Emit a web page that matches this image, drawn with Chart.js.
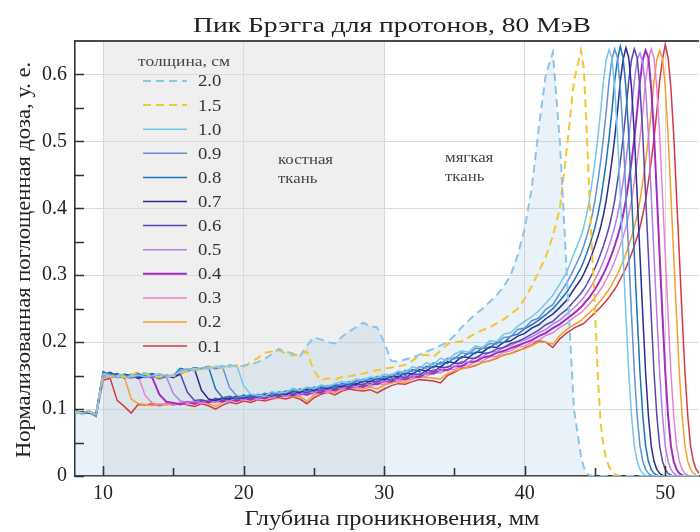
<!DOCTYPE html>
<html>
<head>
<meta charset="utf-8">
<script src="https://cdn.jsdelivr.net/npm/chart.js@4.4.0/dist/chart.umd.min.js"></script>
<style>
  html, body { margin: 0; padding: 0; background: #fff; }
</style>
</head>
<body>
<canvas id="chart" width="700" height="532"></canvas>
<script>
// depth grid, mm (0.5 mm steps up to 44, then 0.2 mm through the peaks)
const depth = [
  8, 8.5, 9, 9.5, 10, 10.5, 11, 11.5, 12, 12.5,
  13, 13.5, 14, 14.5, 15, 15.5, 16, 16.5, 17, 17.5,
  18, 18.5, 19, 19.5, 20, 20.5, 21, 21.5, 22, 22.5,
  23, 23.5, 24, 24.5, 25, 25.5, 26, 26.5, 27, 27.5,
  28, 28.5, 29, 29.5, 30, 30.5, 31, 31.5, 32, 32.5,
  33, 33.5, 34, 34.5, 35, 35.5, 36, 36.5, 37, 37.5,
  38, 38.5, 39, 39.5, 40, 40.5, 41, 41.5, 42, 42.5,
  43, 43.5, 44, 44.2, 44.4, 44.6, 44.8, 45, 45.2, 45.4,
  45.6, 45.8, 46, 46.2, 46.4, 46.6, 46.8, 47, 47.2, 47.4,
  47.6, 47.8, 48, 48.2, 48.4, 48.6, 48.8, 49, 49.2, 49.4,
  49.6, 49.8, 50, 50.2, 50.4, 50.6, 50.8, 51, 51.2, 51.4,
  51.6, 51.8, 52, 52.2, 52.4
];

const thickness = ['2.0', '1.5', '1.0', '0.9', '0.8', '0.7', '0.6', '0.5', '0.4', '0.3', '0.2', '0.1'];

const dose20 = [
  0.095, 0.093, 0.096, 0.091, 0.153, 0.150, 0.148, 0.152, 0.149, 0.151,
  0.154, 0.150, 0.152, 0.148, 0.151, 0.156, 0.160, 0.158, 0.162, 0.160,
  0.164, 0.162, 0.166, 0.163, 0.165, 0.167, 0.170, 0.175, 0.182, 0.190,
  0.186, 0.183, 0.179, 0.195, 0.207, 0.204, 0.200, 0.198, 0.208, 0.216,
  0.222, 0.229, 0.224, 0.222, 0.200, 0.172, 0.171, 0.174, 0.177, 0.181,
  0.186, 0.190, 0.195, 0.200, 0.210, 0.222, 0.232, 0.242, 0.250, 0.260,
  0.270, 0.283, 0.300, 0.330, 0.370, 0.430, 0.520, 0.600, 0.633, 0.500,
  0.300, 0.100, 0.030, 0.013, 0.005, 0.001, 0, 0, 0, 0,
  0, 0, 0, 0, 0, 0, 0, 0, 0, 0,
  0, 0, 0, 0, 0, 0, 0, 0, 0, 0,
  0, 0, 0, 0, 0, 0, 0, 0, 0, 0,
  0, 0, 0, 0, 0
];

const dose15 = [
  0.096, 0.094, 0.097, 0.092, 0.151, 0.149, 0.152, 0.148, 0.151, 0.156,
  0.152, 0.150, 0.148, 0.151, 0.149, 0.154, 0.157, 0.160, 0.158, 0.161,
  0.163, 0.161, 0.165, 0.164, 0.163, 0.170, 0.176, 0.184, 0.186, 0.188,
  0.183, 0.180, 0.182, 0.186, 0.157, 0.143, 0.146, 0.144, 0.148, 0.149,
  0.151, 0.153, 0.156, 0.158, 0.160, 0.162, 0.164, 0.166, 0.172, 0.180,
  0.181, 0.178, 0.187, 0.197, 0.200, 0.201, 0.207, 0.213, 0.218, 0.222,
  0.228, 0.234, 0.242, 0.250, 0.265, 0.284, 0.305, 0.328, 0.358, 0.400,
  0.490, 0.590, 0.636, 0.610, 0.520, 0.420, 0.330, 0.250, 0.150, 0.080,
  0.045, 0.025, 0.014, 0.007, 0.003, 0.001, 0, 0, 0, 0,
  0, 0, 0, 0, 0, 0, 0, 0, 0, 0,
  0, 0, 0, 0, 0, 0, 0, 0, 0, 0,
  0, 0, 0, 0, 0
];

const dose10 = [
  0.096, 0.094, 0.098, 0.092, 0.152, 0.148, 0.150, 0.147, 0.149, 0.151,
  0.148, 0.150, 0.153, 0.149, 0.151, 0.156, 0.158, 0.161, 0.159, 0.163,
  0.162, 0.165, 0.163, 0.166, 0.135, 0.122, 0.121, 0.119, 0.126, 0.124,
  0.125, 0.131, 0.128, 0.133, 0.131, 0.136, 0.134, 0.138, 0.141, 0.139,
  0.145, 0.143, 0.148, 0.147, 0.152, 0.151, 0.157, 0.155, 0.163, 0.161,
  0.169, 0.166, 0.176, 0.173, 0.182, 0.187, 0.185, 0.194, 0.192, 0.202,
  0.201, 0.212, 0.214, 0.224, 0.231, 0.238, 0.247, 0.258, 0.270, 0.287,
  0.305, 0.332, 0.358, 0.372, 0.390, 0.412, 0.440, 0.470, 0.505, 0.545,
  0.590, 0.622, 0.637, 0.625, 0.580, 0.510, 0.420, 0.330, 0.240, 0.155,
  0.090, 0.045, 0.022, 0.010, 0.004, 0.001, 0, 0, 0, 0,
  0, 0, 0, 0, 0, 0, 0, 0, 0, 0,
  0, 0, 0, 0, 0
];

const dose09 = [
  0.095, 0.093, 0.096, 0.090, 0.154, 0.150, 0.148, 0.151, 0.147, 0.150,
  0.152, 0.149, 0.147, 0.151, 0.149, 0.158, 0.160, 0.157, 0.161, 0.164,
  0.160, 0.163, 0.132, 0.120, 0.118, 0.122, 0.119, 0.124, 0.121, 0.126,
  0.124, 0.129, 0.127, 0.132, 0.130, 0.134, 0.133, 0.137, 0.136, 0.141,
  0.140, 0.145, 0.143, 0.149, 0.147, 0.152, 0.151, 0.158, 0.156, 0.163,
  0.161, 0.169, 0.167, 0.176, 0.175, 0.184, 0.182, 0.191, 0.190, 0.198,
  0.197, 0.207, 0.208, 0.219, 0.221, 0.232, 0.236, 0.249, 0.256, 0.273,
  0.289, 0.309, 0.332, 0.344, 0.357, 0.372, 0.390, 0.412, 0.440, 0.470,
  0.505, 0.545, 0.590, 0.622, 0.638, 0.625, 0.580, 0.510, 0.420, 0.330,
  0.240, 0.155, 0.090, 0.045, 0.022, 0.010, 0.004, 0.001, 0, 0,
  0, 0, 0, 0, 0, 0, 0, 0, 0, 0,
  0, 0, 0, 0, 0
];

const dose08 = [
  0.097, 0.095, 0.095, 0.093, 0.156, 0.151, 0.153, 0.149, 0.152, 0.148,
  0.151, 0.153, 0.150, 0.148, 0.150, 0.161, 0.158, 0.162, 0.160, 0.163,
  0.130, 0.117, 0.119, 0.116, 0.121, 0.118, 0.122, 0.120, 0.125, 0.122,
  0.127, 0.125, 0.130, 0.127, 0.133, 0.130, 0.135, 0.133, 0.138, 0.136,
  0.142, 0.140, 0.146, 0.143, 0.149, 0.147, 0.154, 0.151, 0.159, 0.156,
  0.164, 0.162, 0.170, 0.168, 0.177, 0.176, 0.184, 0.183, 0.192, 0.191,
  0.200, 0.199, 0.209, 0.212, 0.220, 0.226, 0.233, 0.241, 0.250, 0.262,
  0.275, 0.292, 0.311, 0.321, 0.332, 0.344, 0.357, 0.372, 0.390, 0.412,
  0.440, 0.470, 0.505, 0.545, 0.590, 0.622, 0.642, 0.625, 0.580, 0.510,
  0.420, 0.330, 0.240, 0.155, 0.090, 0.045, 0.022, 0.010, 0.004, 0.001,
  0, 0, 0, 0, 0, 0, 0, 0, 0, 0,
  0, 0, 0, 0, 0
];

const dose07 = [
  0.094, 0.096, 0.094, 0.091, 0.151, 0.155, 0.149, 0.152, 0.150, 0.146,
  0.149, 0.152, 0.148, 0.150, 0.147, 0.153, 0.157, 0.160, 0.128, 0.115,
  0.113, 0.117, 0.115, 0.119, 0.116, 0.120, 0.118, 0.122, 0.120, 0.124,
  0.122, 0.127, 0.125, 0.130, 0.128, 0.132, 0.131, 0.135, 0.134, 0.138,
  0.137, 0.142, 0.141, 0.146, 0.144, 0.149, 0.148, 0.154, 0.152, 0.159,
  0.157, 0.164, 0.163, 0.171, 0.169, 0.178, 0.177, 0.185, 0.185, 0.193,
  0.192, 0.200, 0.202, 0.209, 0.213, 0.221, 0.226, 0.235, 0.242, 0.252,
  0.263, 0.279, 0.294, 0.302, 0.311, 0.321, 0.332, 0.344, 0.357, 0.372,
  0.390, 0.412, 0.440, 0.470, 0.505, 0.545, 0.590, 0.622, 0.640, 0.625,
  0.580, 0.510, 0.420, 0.330, 0.240, 0.155, 0.090, 0.045, 0.022, 0.010,
  0.004, 0.001, 0, 0, 0, 0, 0, 0, 0, 0,
  0, 0, 0, 0, 0
];

const dose06 = [
  0.096, 0.093, 0.097, 0.092, 0.153, 0.149, 0.152, 0.147, 0.150, 0.153,
  0.148, 0.151, 0.146, 0.150, 0.148, 0.152, 0.125, 0.113, 0.114, 0.111,
  0.116, 0.113, 0.117, 0.115, 0.118, 0.116, 0.120, 0.118, 0.123, 0.120,
  0.125, 0.122, 0.127, 0.124, 0.129, 0.127, 0.132, 0.130, 0.135, 0.133,
  0.138, 0.136, 0.142, 0.140, 0.146, 0.143, 0.149, 0.147, 0.153, 0.151,
  0.158, 0.156, 0.163, 0.162, 0.169, 0.168, 0.176, 0.176, 0.183, 0.184,
  0.190, 0.192, 0.198, 0.201, 0.206, 0.212, 0.218, 0.226, 0.231, 0.241,
  0.249, 0.261, 0.273, 0.279, 0.286, 0.294, 0.302, 0.311, 0.321, 0.332,
  0.344, 0.357, 0.372, 0.390, 0.412, 0.440, 0.470, 0.505, 0.545, 0.590,
  0.622, 0.638, 0.625, 0.580, 0.510, 0.420, 0.330, 0.240, 0.155, 0.090,
  0.045, 0.022, 0.010, 0.004, 0.001, 0, 0, 0, 0, 0,
  0, 0, 0, 0, 0
];

const dose05 = [
  0.095, 0.094, 0.095, 0.090, 0.150, 0.147, 0.151, 0.148, 0.146, 0.150,
  0.147, 0.149, 0.145, 0.148, 0.123, 0.112, 0.110, 0.112, 0.109, 0.113,
  0.111, 0.115, 0.112, 0.117, 0.114, 0.118, 0.116, 0.120, 0.117, 0.122,
  0.119, 0.124, 0.121, 0.127, 0.124, 0.130, 0.127, 0.133, 0.130, 0.136,
  0.133, 0.139, 0.136, 0.142, 0.140, 0.146, 0.143, 0.150, 0.147, 0.154,
  0.152, 0.159, 0.157, 0.164, 0.163, 0.171, 0.170, 0.177, 0.178, 0.185,
  0.186, 0.192, 0.195, 0.200, 0.203, 0.208, 0.214, 0.219, 0.227, 0.233,
  0.242, 0.251, 0.262, 0.267, 0.273, 0.279, 0.286, 0.294, 0.302, 0.311,
  0.321, 0.332, 0.344, 0.357, 0.372, 0.390, 0.412, 0.440, 0.470, 0.505,
  0.545, 0.590, 0.622, 0.632, 0.618, 0.580, 0.510, 0.420, 0.330, 0.240,
  0.155, 0.090, 0.045, 0.022, 0.010, 0.004, 0.001, 0, 0, 0,
  0, 0, 0, 0, 0
];

const dose04 = [
  0.097, 0.095, 0.096, 0.093, 0.152, 0.148, 0.150, 0.147, 0.151, 0.146,
  0.149, 0.147, 0.122, 0.111, 0.109, 0.107, 0.111, 0.108, 0.112, 0.110,
  0.113, 0.111, 0.115, 0.112, 0.116, 0.114, 0.118, 0.116, 0.120, 0.118,
  0.122, 0.120, 0.124, 0.121, 0.126, 0.124, 0.130, 0.128, 0.133, 0.131,
  0.135, 0.133, 0.138, 0.137, 0.142, 0.141, 0.146, 0.144, 0.149, 0.148,
  0.154, 0.153, 0.159, 0.158, 0.164, 0.164, 0.170, 0.171, 0.177, 0.179,
  0.184, 0.187, 0.191, 0.195, 0.199, 0.203, 0.209, 0.214, 0.221, 0.227,
  0.235, 0.243, 0.252, 0.257, 0.262, 0.267, 0.273, 0.279, 0.286, 0.294,
  0.302, 0.311, 0.321, 0.332, 0.344, 0.357, 0.372, 0.390, 0.412, 0.440,
  0.470, 0.505, 0.545, 0.590, 0.622, 0.636, 0.625, 0.580, 0.510, 0.420,
  0.330, 0.240, 0.155, 0.090, 0.045, 0.022, 0.010, 0.004, 0.001, 0,
  0, 0, 0, 0, 0
];

const dose03 = [
  0.094, 0.096, 0.095, 0.091, 0.149, 0.152, 0.147, 0.150, 0.146, 0.149,
  0.120, 0.109, 0.106, 0.109, 0.106, 0.110, 0.107, 0.111, 0.108, 0.112,
  0.109, 0.113, 0.111, 0.115, 0.113, 0.117, 0.114, 0.119, 0.116, 0.121,
  0.118, 0.123, 0.120, 0.125, 0.122, 0.127, 0.125, 0.130, 0.128, 0.133,
  0.131, 0.135, 0.134, 0.138, 0.137, 0.142, 0.141, 0.146, 0.145, 0.149,
  0.149, 0.154, 0.154, 0.159, 0.159, 0.164, 0.165, 0.171, 0.172, 0.178,
  0.179, 0.185, 0.187, 0.193, 0.194, 0.200, 0.203, 0.210, 0.214, 0.222,
  0.228, 0.237, 0.244, 0.248, 0.252, 0.257, 0.262, 0.267, 0.273, 0.279,
  0.286, 0.294, 0.302, 0.311, 0.321, 0.332, 0.344, 0.357, 0.372, 0.390,
  0.412, 0.440, 0.470, 0.505, 0.545, 0.590, 0.622, 0.638, 0.625, 0.580,
  0.510, 0.420, 0.330, 0.240, 0.155, 0.090, 0.045, 0.022, 0.010, 0.004,
  0.001, 0, 0, 0, 0
];

const dose02 = [
  0.096, 0.093, 0.094, 0.090, 0.146, 0.150, 0.147, 0.149, 0.115, 0.108,
  0.107, 0.105, 0.108, 0.106, 0.109, 0.107, 0.110, 0.107, 0.111, 0.108,
  0.104, 0.110, 0.113, 0.111, 0.115, 0.113, 0.117, 0.115, 0.118, 0.116,
  0.120, 0.118, 0.119, 0.112, 0.121, 0.125, 0.127, 0.125, 0.130, 0.133,
  0.131, 0.130, 0.133, 0.130, 0.136, 0.139, 0.141, 0.140, 0.145, 0.148,
  0.147, 0.146, 0.145, 0.153, 0.157, 0.160, 0.163, 0.166, 0.170, 0.172,
  0.177, 0.180, 0.183, 0.188, 0.190, 0.195, 0.200, 0.200, 0.197, 0.210,
  0.219, 0.226, 0.232, 0.236, 0.240, 0.244, 0.248, 0.252, 0.257, 0.262,
  0.267, 0.273, 0.279, 0.286, 0.294, 0.302, 0.311, 0.321, 0.332, 0.344,
  0.357, 0.372, 0.390, 0.412, 0.440, 0.470, 0.505, 0.545, 0.590, 0.622,
  0.636, 0.625, 0.580, 0.510, 0.420, 0.330, 0.240, 0.155, 0.090, 0.045,
  0.022, 0.010, 0.004, 0.001, 0
];

const dose01 = [
  0.095, 0.094, 0.096, 0.089, 0.143, 0.146, 0.113, 0.104, 0.094, 0.107,
  0.106, 0.108, 0.105, 0.108, 0.106, 0.109, 0.106, 0.104, 0.108, 0.105,
  0.100, 0.106, 0.110, 0.108, 0.112, 0.110, 0.114, 0.112, 0.115, 0.117,
  0.115, 0.118, 0.115, 0.108, 0.117, 0.122, 0.125, 0.121, 0.127, 0.130,
  0.128, 0.127, 0.129, 0.124, 0.130, 0.135, 0.138, 0.137, 0.141, 0.144,
  0.143, 0.142, 0.139, 0.150, 0.155, 0.161, 0.162, 0.165, 0.170, 0.172,
  0.176, 0.181, 0.183, 0.187, 0.191, 0.196, 0.202, 0.200, 0.192, 0.205,
  0.214, 0.221, 0.226, 0.228, 0.232, 0.236, 0.240, 0.244, 0.248, 0.252,
  0.257, 0.262, 0.267, 0.273, 0.279, 0.286, 0.294, 0.302, 0.311, 0.321,
  0.332, 0.344, 0.357, 0.372, 0.390, 0.412, 0.440, 0.470, 0.505, 0.545,
  0.590, 0.622, 0.645, 0.625, 0.580, 0.510, 0.420, 0.330, 0.240, 0.155,
  0.090, 0.045, 0.022, 0.010, 0.004
];

const xTicks = [10, 15, 20, 25, 30, 35, 40, 45, 50];
const yTicks = [0, 0.05, 0.1, 0.15, 0.2, 0.25, 0.3, 0.35, 0.4, 0.45, 0.5, 0.55, 0.6];
const boneZone = [10, 30];

const doses = [dose20, dose15, dose10, dose09, dose08, dose07, dose06, dose05, dose04, dose03, dose02, dose01];
const colors = ['#8cc4ea', '#f3c72c', '#74c6ec', '#5f92d6', '#1d74b2', '#2b2c93',
                '#5848aa', '#b67ce8', '#a52bc3', '#e584cc', '#f2a027', '#d43848'];
const SERIF = '"Liberation Serif", "DejaVu Serif", serif';

function drawText(ctx, text, x, y, size, color, align, sx) {
  ctx.save();
  ctx.font = size + 'px ' + SERIF;
  ctx.fillStyle = color;
  ctx.textAlign = align;
  ctx.textBaseline = 'middle';
  ctx.translate(x, y);
  ctx.scale(sx, 1);
  ctx.fillText(text, 0, 0);
  ctx.restore();
}

// stretch text horizontally (or along the rotated axis) to a given length
function fitText(ctx, text, x, y, size, color, width, rotate) {
  ctx.save();
  ctx.font = size + 'px ' + SERIF;
  ctx.fillStyle = color;
  ctx.textAlign = 'center';
  ctx.textBaseline = 'middle';
  ctx.translate(x, y);
  if (rotate) ctx.rotate(-Math.PI / 2);
  ctx.scale(width / ctx.measureText(text).width, 1);
  ctx.fillText(text, 0, 0);
  ctx.restore();
}

const isMajor = (v, step) => Math.abs(v / step - Math.round(v / step)) < 1e-6;

const decor = {
  id: 'decor',
  beforeDraw(chart) {
    const { ctx, chartArea: a, scales: { x } } = chart;
    ctx.save();
    ctx.fillStyle = '#efefef';
    const x0 = x.getPixelForValue(boneZone[0]);
    const x1 = x.getPixelForValue(boneZone[1]);
    ctx.fillRect(x0, a.top, x1 - x0, a.bottom - a.top);
    ctx.restore();
  },
  afterDraw(chart) {
    const { ctx, chartArea: a, scales: { x, y } } = chart;
    ctx.save();
    // top frame line
    ctx.strokeStyle = '#4a4a4a';
    ctx.lineWidth = 2;
    ctx.beginPath();
    ctx.moveTo(a.left, a.top);
    ctx.lineTo(a.right, a.top);
    ctx.stroke();
    // inward tick marks
    ctx.strokeStyle = '#333';
    ctx.lineWidth = 1.6;
    ctx.beginPath();
    yTicks.forEach(v => {
      const py = Math.round(y.getPixelForValue(v)) + 0.5;
      ctx.moveTo(a.left, py);
      ctx.lineTo(a.left + 9, py);
    });
    xTicks.forEach(v => {
      const px = Math.round(x.getPixelForValue(v)) + 0.5;
      ctx.moveTo(px, a.bottom);
      ctx.lineTo(px, a.bottom - (isMajor(v, 10) ? 10 : 8));
    });
    ctx.stroke();
    ctx.restore();

    // titles
    fitText(ctx, 'Пик Брэгга для протонов, 80 МэВ', 392, 27, 20, '#222', 398, false);
    fitText(ctx, 'Глубина проникновения, мм', 392, 519, 21, '#222', 295, false);
    fitText(ctx, 'Нормализованная поглощенная доза, у. е.', 24, 260, 21, '#222', 396, true);

    // legend
    fitText(ctx, 'толщина, см', 184, 62, 14, '#444', 92, false);
    chart.data.datasets.forEach((ds, i) => {
      const ly = 81 + i * 24.1;
      ctx.save();
      ctx.strokeStyle = ds.borderColor;
      ctx.lineWidth = ds.borderWidth;
      ctx.setLineDash(ds.borderDash || []);
      ctx.beginPath();
      ctx.moveTo(143, ly);
      ctx.lineTo(187, ly);
      ctx.stroke();
      ctx.restore();
      drawText(ctx, ds.label, 198, ly + 1, 17, '#333', 'left', 1.1);
    });

    // tissue labels
    drawText(ctx, 'костная', 278, 160, 14, '#444', 'left', 1.2);
    drawText(ctx, 'ткань', 278, 179, 14, '#444', 'left', 1.2);
    drawText(ctx, 'мягкая', 445, 158, 14, '#444', 'left', 1.2);
    drawText(ctx, 'ткань', 445, 177, 14, '#444', 'left', 1.2);
  }
};

const datasets = thickness.map((t, i) => ({
  label: t,
  data: depth.map((d, j) => ({ x: d, y: doses[i][j] })),
  borderColor: colors[i],
  borderWidth: i < 2 ? 2 : (t === '0.4' ? 2 : 1.5),
  borderDash: i < 2 ? [8, 5] : [],
  pointRadius: 0,
  tension: 0,
  fill: i === 0 ? 'origin' : false,
  backgroundColor: i === 0 ? 'rgba(150, 190, 225, 0.2)' : 'transparent'
}));

new Chart(document.getElementById('chart'), {
  type: 'line',
  data: { datasets },
  options: {
    responsive: false,
    animation: false,
    layout: { padding: { top: 41, left: 0, right: 1, bottom: 0 } },
    plugins: {
      legend: { display: false },
      tooltip: { enabled: false },
      filler: { drawTime: 'beforeDatasetsDraw' }
    },
    scales: {
      x: {
        type: 'linear',
        min: 8,
        max: 52.4,
        afterFit: s => { s.height = 56; },
        afterBuildTicks: s => { s.ticks = xTicks.map(v => ({ value: v })); },
        ticks: {
          autoSkip: false,
          maxRotation: 0,
          padding: 6,
          color: '#222',
          font: { family: SERIF, size: 20 },
          callback: v => isMajor(v, 10) ? String(v) : ''
        },
        grid: {
          drawTicks: false,
          lineWidth: 1,
          color: c => (c.tick && isMajor(c.tick.value, 10)) ? '#dadada' : 'rgba(0,0,0,0)'
        },
        border: { color: '#333', width: 1.6 }
      },
      y: {
        min: 0,
        max: 0.65,
        afterFit: s => { s.width = 75; },
        afterBuildTicks: s => { s.ticks = yTicks.map(v => ({ value: v })); },
        ticks: {
          autoSkip: false,
          padding: 8,
          color: '#222',
          font: { family: SERIF, size: 20 },
          callback: v => isMajor(v, 0.1) ? (v === 0 ? '0' : v.toFixed(1)) : ''
        },
        grid: {
          drawTicks: false,
          lineWidth: 1,
          color: c => (c.tick && c.tick.value > 0 && isMajor(c.tick.value, 0.1)) ? '#dadada' : 'rgba(0,0,0,0)'
        },
        border: { color: '#333', width: 1.6 }
      }
    }
  },
  plugins: [decor]
});
</script>
</body>
</html>
